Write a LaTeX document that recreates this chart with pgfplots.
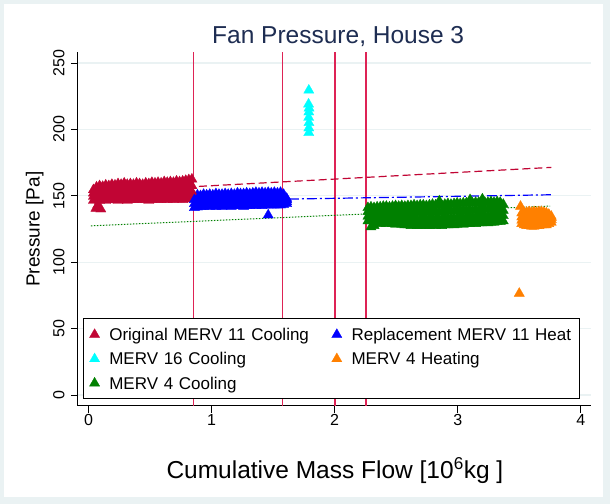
\documentclass[border=0pt]{standalone}
\usepackage{fontspec}
\setmainfont{Liberation Sans}
\usepackage{pgfplots}
\pgfplotsset{compat=1.18}
\usepackage{pgfplotstable}

\definecolor{cranb}{RGB}{193,5,52}
\definecolor{vline}{RGB}{222,35,85}
\definecolor{mblue}{RGB}{0,0,255}
\definecolor{mcyan}{RGB}{0,255,255}
\definecolor{morange}{RGB}{255,128,0}
\definecolor{mgreen}{RGB}{0,128,0}
\definecolor{titlenavy}{RGB}{30,45,82}
\definecolor{framebg}{RGB}{234,242,243}

% envelope rows: x, bottom, two middle rows, top
\pgfplotstableread{
x     low   b     c     top
0.040 146.5 149.5 152   154.5
0.065 147   150   153   156.5
0.090 146.5 150   154   157.5
0.115 147   150.5 153.5 157
0.140 146.5 150.5 154.5 158
0.165 147   150.5 154   157.5
0.190 147.5 151   155   158.5
0.215 147   150.5 154.5 158
0.240 146.5 150.5 155   159
0.265 147   151   155   158.5
0.290 147   151   155.5 159.5
0.315 146.5 150.5 154.5 158.5
0.340 147   151   155   159
0.365 147   151   155   158.5
0.390 147   151.5 155.5 159.5
0.415 147.5 151.5 155   159
0.440 147   151   155   158.5
0.465 147   151.5 155.5 159.5
0.490 146.5 151   155   159
0.515 147   151.5 156   160
0.540 147.5 151.5 155.5 159.5
0.565 147   151.5 156   160
0.590 147   151.5 155.5 159.5
0.615 147.5 152   156   160.5
0.640 147   151.5 156   160
0.665 147.5 152   156.5 160.5
0.690 147   152   156   160
0.715 147.5 152   156.5 161
0.740 147.5 152   156.5 160.5
0.765 147   152   156.5 161
0.790 147.5 152   157   161.5
0.815 148   152.5 157   162
0.840 148.5 153   157.5 162.5
}\redtab

\pgfplotstableread{
x     low   b     c     top
0.860 141   144   147   149.5
0.885 141.5 144.5 147.5 150.5
0.910 142   145   147.5 150
0.935 142   145   148   151
0.960 142.5 145.5 148   150.5
0.985 142   145   148   151
1.010 142.5 145.5 148   150.5
1.035 142   145   148.5 151.5
1.060 142.5 145.5 148   151
1.085 142   145   148   151
1.110 142.5 145.5 148.5 151.5
1.135 142.5 145.5 148   151
1.160 142   145   148.5 151.5
1.185 142.5 145.5 148   151
1.210 142.5 145.5 149   152
1.235 142.5 145.5 148.5 151.5
1.260 142   145   148.5 151.5
1.285 142.5 145.5 149   152
1.310 142.5 145.5 148.5 151.5
1.335 143   146   149   152
1.360 142.5 146   149   152.5
1.385 143   146   149   152
1.410 142.5 146   149   152.5
1.435 143   146   149   152
1.460 143   146   149.5 152.5
1.485 143   146   149   152
1.510 143   146   149.5 152.5
1.535 143   146   149   152
1.560 143   146   149.5 152.5
1.585 143.5 146   148.5 151
1.610 144   145.5 147   148
}\bluetab

\pgfplotstableread{
x     low   b     c     top
2.270 131   134.5 138   141
2.295 126.5 131   136   141.5
2.320 127.5 132   136.5 141
2.345 129.5 133   137   141.5
2.370 129   133   137   141.5
2.395 129.5 133.5 137.5 142
2.420 129   133   137.5 142
2.445 129.5 133.5 137.5 141.5
2.470 129   133   137.5 142
2.495 128.5 133   137.5 142.5
2.520 129   133.5 138   142
2.545 128.5 133   137.5 142.5
2.570 128   132.5 137.5 142
2.595 128   132.5 137.5 142.5
2.620 127.5 132.5 137.5 142.5
2.645 128   132.5 137.5 143
2.670 127.5 132   137.5 142.5
2.695 127.5 132.5 138   143
2.720 128   133   138   143
2.745 127.5 132.5 137.5 142.5
2.770 127.5 132.5 138   143
2.795 128   133   138   143.5
2.820 127.5 132.5 138   143
2.845 128   133   138   143.5
2.870 127.5 132.5 138   143
2.895 128   133   138.5 143.5
2.920 128   133   138.5 144
2.945 128.5 133.5 138.5 143.5
2.970 128   133   138.5 144
2.995 128.5 133.5 139   144.5
3.020 129   134   139   144
3.045 128.5 133.5 139   144.5
3.070 129   134   139   144.5
3.095 129   134   139.5 145
3.120 129.5 134   139   144.5
3.145 129   134   139.5 145
3.170 129.5 134.5 139.5 145
3.195 129.5 134.5 140   145.5
3.220 130   134.5 140   145
3.245 129.5 134.5 139.5 145
3.270 130   135   140   145.5
3.295 130   135   140   145
3.320 130.5 135   140   145.5
3.345 130.5 135   139.5 145
3.370 131   135   139   143.5
}\greentab

\pgfplotstableread{
x     low   b     c     top
3.520 129   131.5 134   137
3.540 128   131   134   137.5
3.560 127.5 130.5 134   137.5
3.580 127.5 130.5 134   138
3.600 127   130.5 134   137.5
3.620 127   130.5 134   138
3.640 127.5 130.5 134   137.5
3.660 127.5 130.5 134   138
3.680 128   131   134.5 138
3.700 128   131   134   137.5
3.720 128   131   134   137
3.740 129   131.5 134   136
3.760 130   132   133.5 134.5
}\orangetab

\begin{document}
\begin{tikzpicture}
\useasboundingbox (0,0) rectangle (610bp,504bp);
\fill[framebg] (0,0) rectangle (610bp,504bp);
\fill[white] (4bp,7bp) rectangle (603bp,500bp);
\begin{axis}[
  at={(77.8bp,98.3bp)}, anchor=south west,
  scale only axis, width=513.6bp, height=353.7bp,
  xmin=-0.087, xmax=4.086, ymin=-8.06, ymax=258.3,
  axis lines*=left,
  axis line style={black, line width=0.8bp},
  xtick={0,1,2,3,4}, ytick={0,50,100,150,200,250},
  tick align=outside, major tick length=7bp,
  tick style={black, line width=0.8bp},
  ymajorgrids, grid style={framebg, line width=1.2bp},
  /pgf/number format/assume math mode=true,
  ticklabel style={font=\fontsize{16bp}{18bp}\selectfont},
  xticklabel style={anchor=north, inner sep=0pt},
  yticklabel style={rotate=90, anchor=south, inner sep=0pt},
  xticklabel shift=1.3bp, yticklabel shift=6bp,
  title={Fan Pressure, House 3},
  title style={at={(axis description cs:0.507,1.0057)}, anchor=base,
    font=\fontsize{24.5bp}{28bp}\selectfont, text=titlenavy, inner sep=0pt},
  xlabel={Cumulative Mass Flow [10\textsuperscript{6}kg ]},
  xlabel style={at={(axis description cs:0.5006,-0.2044)}, anchor=base,
    font=\fontsize{24.5bp}{28bp}\selectfont, inner sep=0pt},
  ylabel={Pressure [Pa]},
  ylabel style={at={(axis description cs:-0.0741,0.499)}, anchor=base,
    font=\fontsize{19bp}{22bp}\selectfont, inner sep=0pt},
  legend columns=2,
  legend cell align=left,
  legend image code/.code={\draw[#1] plot coordinates {(6bp,0bp)};},
  legend style={at={(axis description cs:0.0111,0.0181)}, anchor=south west,
    draw=black, line width=0.8bp, fill=white,
    inner xsep=5.6bp, inner ysep=9.6bp, row sep=12.1bp,
    font=\fontsize{17bp}{19bp}\selectfont,
    nodes={text width=222bp, text height=12.2bp, text depth=0pt, inner xsep=0bp, inner ysep=0pt},
    /tikz/every odd column/.append style={column sep=9.6bp},
    /tikz/every even column/.append style={column sep=0.4bp}},
  mk/.style={only marks, mark=triangle*, mark size=5.9bp,
    mark options={draw=#1, fill=#1, line width=0.3bp}, color=#1},
]
% period boundaries
\addplot[vline, line width=1.2bp, forget plot] coordinates {(0.852,-8.06) (0.852,258.3)};
\addplot[vline, line width=1.2bp, forget plot] coordinates {(1.573,-8.06) (1.573,258.3)};
\addplot[vline, line width=1.2bp, forget plot] coordinates {(2.002,-8.06) (2.002,258.3)};
\addplot[vline, line width=1.2bp, forget plot] coordinates {(2.254,-8.06) (2.254,258.3)};

% scatter, legend order
\addplot[mk=cranb] table[y=top]{\redtab};
\addlegendentry{Original MERV 11 Cooling}
\addplot[mk=mblue] table[y=top]{\bluetab};
\addlegendentry{Replacement MERV 11 Heat}
\addplot[mk=mcyan] coordinates {(1.790,229.5) (1.788,219) (1.792,216) (1.790,213) (1.789,209) (1.791,205) (1.790,201) (1.790,197.5)};
\addlegendentry{MERV 16 Cooling}
\addplot[mk=morange] table[y=top]{\orangetab};
\addlegendentry{MERV 4 Heating}
\addplot[mk=mgreen] table[y=top]{\greentab};
\addlegendentry{MERV 4 Cooling}

\addplot[mk=cranb, forget plot] table[y=c]{\redtab};
\addplot[mk=cranb, forget plot] table[y=b]{\redtab};
\addplot[mk=cranb, forget plot] table[y=low]{\redtab};
\addplot[mk=cranb, forget plot] coordinates {(0.06,140.5) (0.08,141.5) (0.10,140) (0.075,143)};
\addplot[mk=mblue, forget plot] table[y=c]{\bluetab};
\addplot[mk=mblue, forget plot] table[y=b]{\bluetab};
\addplot[mk=mblue, forget plot] table[y=low]{\bluetab};
\addplot[mk=mblue, forget plot] coordinates {(1.46,135.5)};
\addplot[mk=mgreen, forget plot] table[y=c]{\greentab};
\addplot[mk=mgreen, forget plot] table[y=b]{\greentab};
\addplot[mk=mgreen, forget plot] table[y=low]{\greentab};
\addplot[mk=mgreen, forget plot] coordinates {(2.85,146) (3.10,147) (3.20,147.5)};
\addplot[mk=morange, forget plot] table[y=c]{\orangetab};
\addplot[mk=morange, forget plot] table[y=b]{\orangetab};
\addplot[mk=morange, forget plot] table[y=low]{\orangetab};
\addplot[mk=morange, forget plot] coordinates {(3.51,142) (3.50,76.5)};

% linear fits
\addplot[cranb, line width=1.2bp, dash pattern=on 8bp off 4bp, forget plot] coordinates {(0.02,152.7) (3.76,171.4)};
\addplot[mblue, line width=1.2bp, dash pattern=on 10bp off 3bp on 2bp off 3bp, forget plot] coordinates {(0.02,145.1) (3.77,150.8)};
\addplot[mgreen, line width=1bp, dash pattern=on 1.5bp off 1.5bp, forget plot] coordinates {(0.02,127.4) (3.75,142.3)};
\end{axis}
\end{tikzpicture}
\end{document}
